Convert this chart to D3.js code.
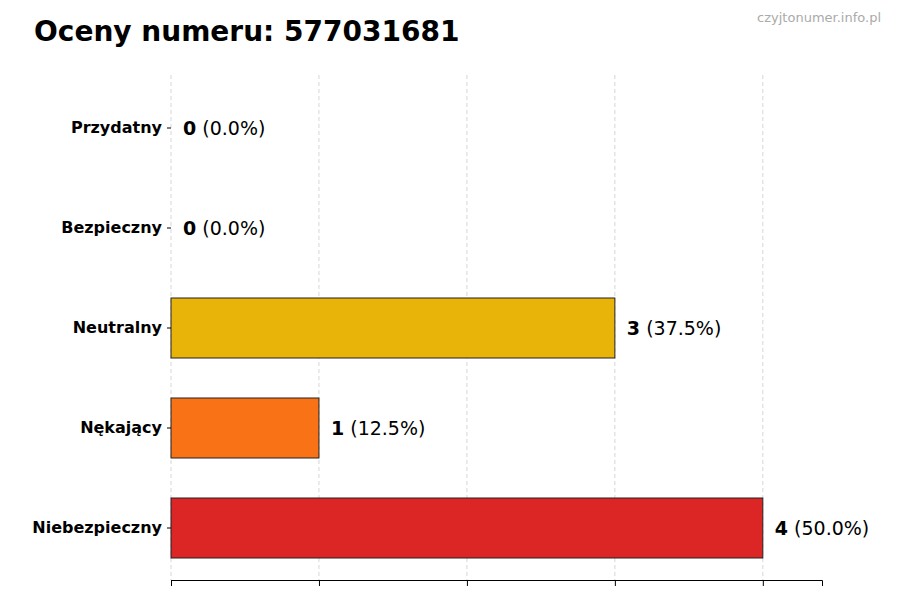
<!DOCTYPE html>
<html><head><meta charset="utf-8">
<script src="https://cdn.jsdelivr.net/npm/d3@7"></script>
<style>body{margin:0;background:#fff}</style></head>
<body><svg id="c" width="900" height="600"></svg>
<script>
const categories=["Przydatny","Bezpieczny","Neutralny","Nękający","Niebezpieczny"];
const values=[0,0,3,1,4];
const colors=["#22c55e","#3b82f6","#e8b40a","#f97316","#dc2626"];
const xTicks=[0,1,2,3,4];
const total=d3.sum(values);
const svg=d3.select("#c");
const font="DejaVu Sans, sans-serif";
const x=d3.scaleLinear().domain([0,4.4]).range([171,822]);
const y=d3.scaleBand().domain(categories).range([78,578]).paddingInner(0.4).paddingOuter(0.2);
// grid
svg.append("g").selectAll("line").data(xTicks).join("line")
 .attr("x1",d=>x(d)).attr("x2",d=>x(d)).attr("y1",75).attr("y2",580)
 .attr("stroke","#ccc").attr("stroke-dasharray","4,3").attr("stroke-width",0.8);
// bars
svg.append("g").selectAll("rect").data(categories).join("rect")
 .attr("x",x(0)).attr("y",d=>y(d)).attr("height",y.bandwidth())
 .attr("width",(d,i)=>x(values[i])-x(0)).attr("fill",(d,i)=>colors[i])
 .attr("stroke","#222").attr("stroke-width",1);
// x axis
const xa=svg.append("g").attr("transform","translate(0,580)")
 .call(d3.axisBottom(x).tickValues(xTicks).tickFormat("").tickSize(6));
xa.select(".domain").attr("stroke","#000");
// y axis
const ya=svg.append("g").attr("transform","translate(171,0)")
 .call(d3.axisLeft(y).tickSize(4));
ya.select(".domain").remove();
ya.selectAll("text").attr("font-family",font).attr("font-size",16).attr("font-weight","bold").attr("fill","#000").attr("dx",-2);
// value labels
const lab=svg.append("g").selectAll("text").data(categories).join("text")
 .attr("x",(d,i)=>x(values[i])+12).attr("y",d=>y(d)+y.bandwidth()/2).attr("dy","0.35em")
 .attr("font-family",font).attr("font-size",19);
lab.append("tspan").attr("font-weight","bold").text((d,i)=>values[i]);
lab.append("tspan").text((d,i)=>" ("+(values[i]/total*100).toFixed(1)+"%)");
svg.append("text").attr("x",34).attr("y",41).attr("font-family",font).attr("font-size",28).attr("font-weight","bold").text("Oceny numeru: 577031681");
svg.append("text").attr("x",881).attr("y",22).attr("text-anchor","end").attr("font-family",font).attr("font-size",13).attr("fill","#aaa").text("czyjtonumer.info.pl");
</script></body></html>
